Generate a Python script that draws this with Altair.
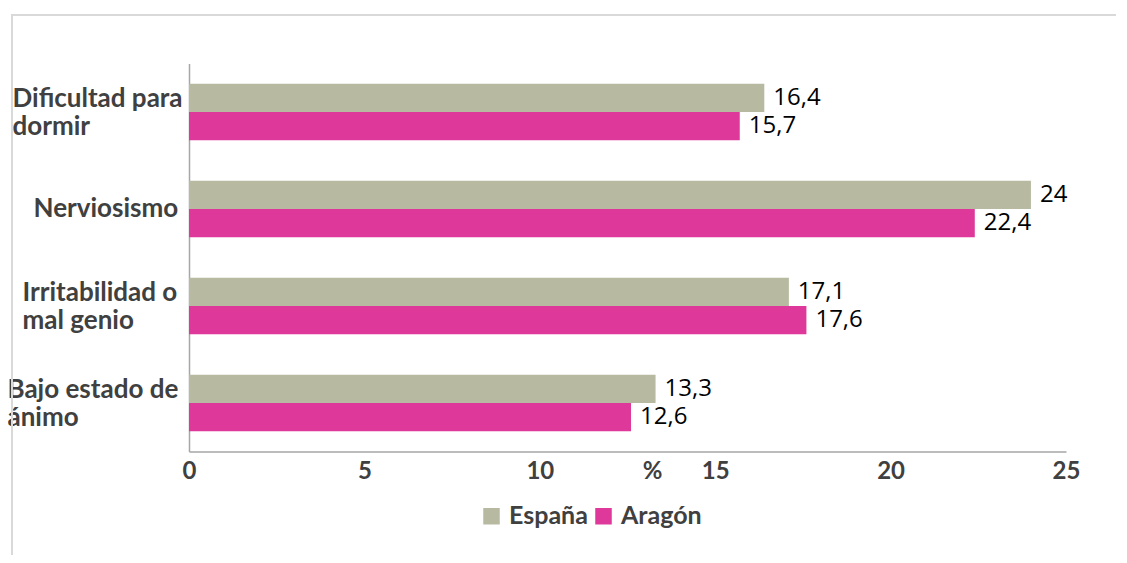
import altair as alt
import pandas as pd

categories = ["Dificultad para|dormir", "Nerviosismo", "Irritabilidad o|mal genio", "Bajo estado de|ánimo"]
series = ["España", "Aragón"]
espana = [16.4, 24, 17.1, 13.3]
aragon = [15.7, 22.4, 17.6, 12.6]
colors = ["#B7BAA0", "#DD389A"]
x_ticks = [0, 5, 10, 15, 20, 25]

rows = []
for c, e, a in zip(categories, espana, aragon):
    rows.append({"categoria": c, "serie": "España", "valor": e})
    rows.append({"categoria": c, "serie": "Aragón", "valor": a})
df = pd.DataFrame(rows)

TXT = "#404040"

pad_expr = (
    "datum.value == 'Nerviosismo' ? 156 : "
    "datum.value == 'Irritabilidad o|mal genio' ? 167 : "
    "datum.value == 'Bajo estado de|ánimo' ? 182 : 177"
)
off_expr = "indexof(datum.value, '|') >= 0 ? -13.5 : 0"

base = alt.Chart(df).transform_calculate(
    etiqueta="replace(format(datum.valor, '.1~f'), '.', ',')"
).encode(
    y=alt.Y(
        "categoria:N",
        sort=categories,
        scale=alt.Scale(paddingInner=0.42, paddingOuter=0.21),
        axis=alt.Axis(
            title=None,
            labelExpr="split(datum.label, '|')",
            labelAlign="left",
            labelBaseline="middle",
            labelPadding=alt.ExprRef(expr=pad_expr),
            labelOffset=alt.ExprRef(expr=off_expr),
            labelFont="Lato",
            labelFontWeight="bold",
            labelFontSize=26,
            labelColor=TXT,
            labelLineHeight=28,
            labelLimit=400,
            labelOverlap=False,
            ticks=False,
            tickSize=0,
            domainColor="#a6a6a6",
            domainWidth=1.5,
        ),
    ),
    yOffset=alt.YOffset("serie:N", sort=series, scale=alt.Scale(paddingInner=0, paddingOuter=0)),
)

bars = base.mark_bar().encode(
    x=alt.X(
        "valor:Q",
        scale=alt.Scale(domain=[0, 25], nice=False),
        axis=alt.Axis(
            values=x_ticks,
            grid=False,
            ticks=False,
            tickSize=0,
            labelFont="Lato",
            labelFontWeight="bold",
            labelFontSize=24,
            labelColor=TXT,
            labelPadding=8,
            labelFlush=False,
            domainColor="#a6a6a6",
            domainWidth=1.5,
            title="%",
            titleX=463,
            titleY=8,
            titleBaseline="top",
            titleAlign="center",
            titleFont="Lato",
            titleFontWeight="bold",
            titleFontSize=24,
            titleColor=TXT,
        ),
    ),
    color=alt.Color(
        "serie:N",
        sort=series,
        scale=alt.Scale(domain=series, range=colors),
        legend=alt.Legend(
            orient="none",
            legendX=290,
            legendY=440,
            direction="horizontal",
            title=None,
            symbolType="square",
            symbolSize=272,
            symbolStrokeWidth=0,
            labelFont="Lato",
            labelFontWeight="bold",
            labelFontSize=25,
            labelColor=TXT,
            labelOffset=5,
            columnPadding=3,
            padding=0,
        ),
    ),
)

text = base.mark_text(
    align="left", baseline="middle", dx=9, font="Open Sans", fontSize=24, color="black"
).encode(x="valor:Q", text="etiqueta:N")

frame = alt.Chart(pd.DataFrame({"k": [0]})).mark_rect(
    fillOpacity=0, stroke="#d9d9d9", strokeWidth=2
).encode(
    x=alt.value(-177), x2=alt.value(960), y=alt.value(-48.5), y2=alt.value(520)
)

chart = alt.layer(frame, bars, text).properties(
    width=877,
    height=388,
    autosize=alt.AutoSizeParams(type="none"),
    padding={"left": 181, "top": 55.5, "right": 50, "bottom": 103},
).configure(font="Lato").configure_view(strokeWidth=0)

chart.save("out.html", embed_options={"renderer": "svg", "actions": False})
